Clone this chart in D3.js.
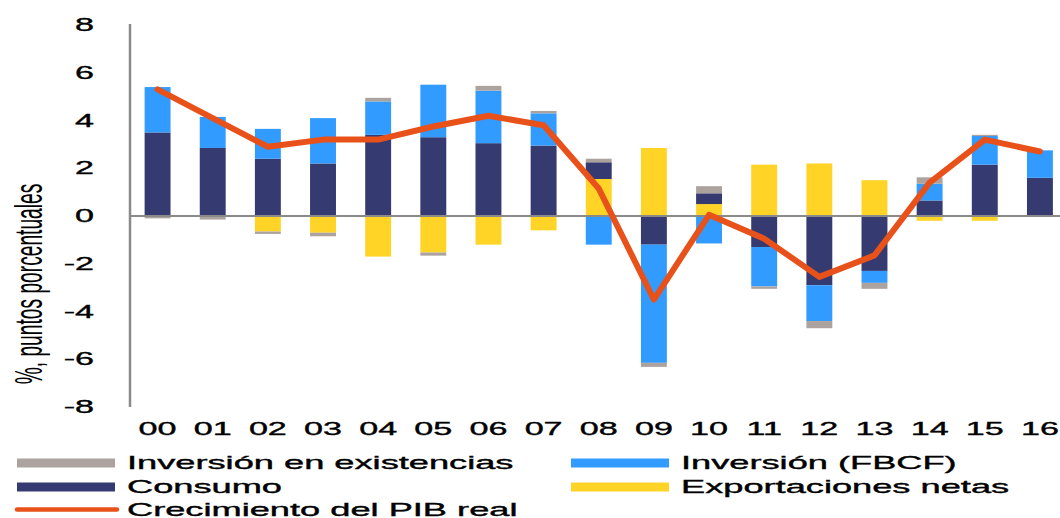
<!DOCTYPE html>
<html>
<head>
<meta charset="utf-8">
<script src="https://cdn.jsdelivr.net/npm/d3@7"></script>
<style>
  html, body { margin: 0; padding: 0; background: #fff; }
  svg { display: block; font-family: "Liberation Sans", Arial, sans-serif; }
</style>
</head>
<body>
<svg id="chart" width="1060" height="518"></svg>
<script>
// Años (etiquetas del eje X)
const years = ["00","01","02","03","04","05","06","07","08","09","10","11","12","13","14","15","16"];

// Contribuciones al crecimiento, en puntos porcentuales
const exportaciones = [0, 0, -0.65, -0.7, -1.7, -1.53, -1.2, -0.6, 1.55, 2.85, 0.5, 2.15, 2.2, 1.5, -0.2, -0.2, -0.03];
const consumo       = [3.5, 2.85, 2.4, 2.2, 3.4, 3.3, 3.05, 2.95, 0.7, -1.2, 0.45, -1.3, -2.9, -2.3, 0.65, 2.15, 1.6];
const fbcf          = [1.9, 1.3, 1.25, 1.9, 1.4, 2.2, 2.2, 1.35, -1.2, -4.95, -1.15, -1.65, -1.5, -0.5, 0.7, 1.2, 1.15];
const existencias   = [-0.1, -0.15, -0.1, -0.15, 0.15, -0.13, 0.2, 0.1, 0.15, -0.17, 0.3, -0.1, -0.3, -0.25, 0.27, 0.05, 0];

// Crecimiento del PIB real (%)
const pib = [5.3, 4.1, 2.9, 3.2, 3.2, 3.75, 4.2, 3.8, 1.15, -3.5, 0.05, -0.95, -2.55, -1.65, 1.4, 3.2, 2.7];

const yTicks = [8, 6, 4, 2, 0, -2, -4, -6, -8];

const colors = {
  exportaciones: "#ffd426",
  consumo: "#353a70",
  fbcf: "#319bff",
  existencias: "#aca39f",
  pib: "#e8521a"
};

const svg = d3.select("#chart");

// Escalas
const x = d3.scaleBand()
  .domain(years)
  .range([130, 1067.5])
  .paddingInner(0.53)
  .paddingOuter(0.265);

const y = d3.scaleLinear().domain([-8, 8]).range([407, 25]);

// Tabla para apilar (positivos hacia arriba, negativos hacia abajo)
const keys = ["exportaciones", "consumo", "fbcf", "existencias"];
const rows = years.map((yr, i) => ({
  year: yr,
  exportaciones: exportaciones[i],
  consumo: consumo[i],
  fbcf: fbcf[i],
  existencias: existencias[i]
}));
const stacked = d3.stack().keys(keys).offset(d3.stackOffsetDiverging)(rows);

// Barras apiladas
svg.append("g")
  .selectAll("g")
  .data(stacked)
  .join("g")
  .attr("fill", d => colors[d.key])
  .selectAll("rect")
  .data(d => d)
  .join("rect")
  .attr("x", d => x(d.data.year))
  .attr("width", x.bandwidth())
  .attr("y", d => y(Math.max(d[0], d[1])))
  .attr("height", d => Math.abs(y(d[0]) - y(d[1])));

// Línea de cero
svg.append("line")
  .attr("x1", 130).attr("x2", 1060)
  .attr("y1", y(0)).attr("y2", y(0))
  .attr("stroke", "#8a8a8a").attr("stroke-width", 2);

// Eje Y (línea vertical)
svg.append("line")
  .attr("x1", 130).attr("x2", 130)
  .attr("y1", y(8) - 1).attr("y2", y(-8))
  .attr("stroke", "#8a8a8a").attr("stroke-width", 2.5);

// Estilo común de los textos (ligeramente engrosados)
function heavy(sel) {
  return sel.attr("fill", "#000")
    .attr("stroke", "#000")
    .attr("stroke-width", 0.35);
}

// Etiquetas del eje Y
svg.append("g")
  .selectAll("text")
  .data(yTicks)
  .join("text")
  .attr("transform", d => `translate(94,${y(d) + 6.2}) scale(1.95,1)`)
  .attr("text-anchor", "end")
  .attr("font-size", 17.5)
  .call(heavy)
  .text(d => d);

// Etiquetas del eje X
svg.append("g")
  .selectAll("text")
  .data(years)
  .join("text")
  .attr("transform", d => `translate(${x(d) + x.bandwidth() / 2},435) scale(1.95,1)`)
  .attr("text-anchor", "middle")
  .attr("font-size", 17.5)
  .call(heavy)
  .text(d => d);

// Título del eje Y
svg.append("text")
  .attr("transform", "translate(42,284) rotate(-90) scale(0.96,1.9)")
  .attr("text-anchor", "middle")
  .attr("font-size", 20)
  .attr("fill", "#000")
  .text("%, puntos porcentuales");

// Línea del PIB real
const line = d3.line()
  .x((d, i) => x(years[i]) + x.bandwidth() / 2)
  .y(d => y(d));

svg.append("path")
  .datum(pib)
  .attr("d", line)
  .attr("fill", "none")
  .attr("stroke", colors.pib)
  .attr("stroke-width", 6)
  .attr("stroke-linejoin", "round")
  .attr("stroke-linecap", "round");

// Leyenda
const legendItems = [
  { label: "Inversión en existencias", key: "existencias", x: 17, row: 0, type: "rect" },
  { label: "Inversión (FBCF)", key: "fbcf", x: 571, row: 0, type: "rect" },
  { label: "Consumo", key: "consumo", x: 17, row: 1, type: "rect" },
  { label: "Exportaciones netas", key: "exportaciones", x: 571, row: 1, type: "rect" },
  { label: "Crecimiento del PIB real", key: "pib", x: 17, row: 2, type: "line" }
];
const rowY = [463, 487, 509.5];

const lg = svg.append("g");
legendItems.forEach(it => {
  const cy = rowY[it.row];
  if (it.type === "rect") {
    lg.append("rect")
      .attr("x", it.x).attr("y", cy - 4.5)
      .attr("width", 98).attr("height", 9)
      .attr("fill", colors[it.key]);
  } else {
    lg.append("line")
      .attr("x1", it.x).attr("x2", it.x + 100)
      .attr("y1", cy).attr("y2", cy)
      .attr("stroke", colors[it.key])
      .attr("stroke-width", 4.5)
      .attr("stroke-linecap", "round");
  }
  lg.append("text")
    .attr("transform", `translate(${it.x + 110},${cy + 6.2}) scale(2.07,1)`)
    .attr("font-size", 17.5)
    .call(heavy)
    .text(it.label);
});
</script>
</body>
</html>
